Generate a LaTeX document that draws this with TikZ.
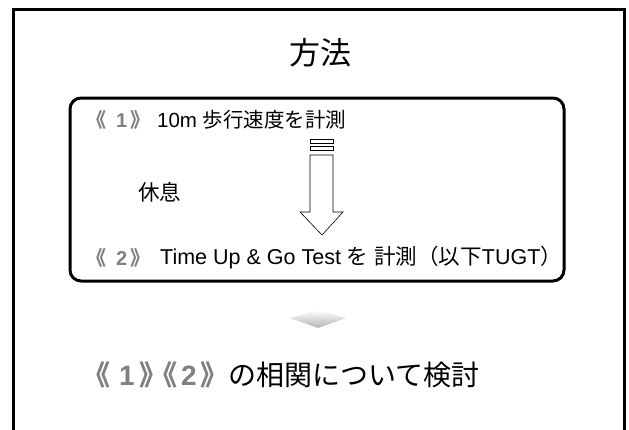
\documentclass[tikz,border=0pt]{standalone}
\usepackage{fontspec}
\setmainfont{Noto Sans CJK JP}
\newfontfamily\lat{Liberation Sans}
\newcommand{\myb}[3]{《\hspace{#2}{\lat #1}\hspace{#3}》}
\begin{document}
\begin{tikzpicture}[x=1pt,y=-1pt,
  frame/.style={line width=3pt,black},
  txt/.style={anchor=west,inner sep=0pt,font=\fontsize{21.5}{24}\selectfont},
  brk/.style={anchor=west,inner sep=0pt,text=black!50,font=\fontsize{20}{24}\selectfont\bfseries},
  big/.style={anchor=west,inner sep=0pt,font=\fontsize{28}{32}\selectfont},
  bigbrk/.style={big,text=black!50,font=\fontsize{28}{32}\selectfont\bfseries}]
\useasboundingbox (0,0) rectangle (629,429);
\draw[frame] (13,440) -- (13,9) -- (624,9) -- (624,440);
\node[inner sep=0pt,font=\fontsize{31}{34}\selectfont] (title) at (320,53) {方法};
\draw[frame,rounded corners=11pt] (70,98) rectangle (564,281);
\node[brk] (b1) at (86,120) {\myb{1}{10pt}{3pt}};
\node[txt,font=\fontsize{20.5}{24}\selectfont] (l1) at (157,120) {{\lat 10m }歩行速度を計測};
\node[txt] (rest) at (138,192) {休息};
\node[brk] (b2) at (86,258) {\myb{2}{10pt}{3pt}};
\node[txt] (l2) at (160,258) {{\lat Time Up \& Go Test }を{\lat\ }計測（以下{\lat TUGT}）};
\draw[line width=0.6pt,fill=white] (310,155) -- (333,155) -- (333,212) -- (343,212) -- (322,235) -- (300,212) -- (310,212) -- cycle;
\draw[line width=0.6pt] (310,139) rectangle (333,143);
\draw[line width=0.6pt] (310,146) rectangle (333,150);
\shade[top color=white,bottom color=black!30] (290,318) -- (318,310) -- (346,318) -- (318,328) -- cycle;
\node[bigbrk] (c1) at (82,375) {\myb{1}{9pt}{5pt}};
\node[bigbrk] (c2) at (149,375) {\myb{2}{4pt}{4pt}};
\node[big] (concl) at (228,375) {の相関について検討};
\end{tikzpicture}
\end{document}
